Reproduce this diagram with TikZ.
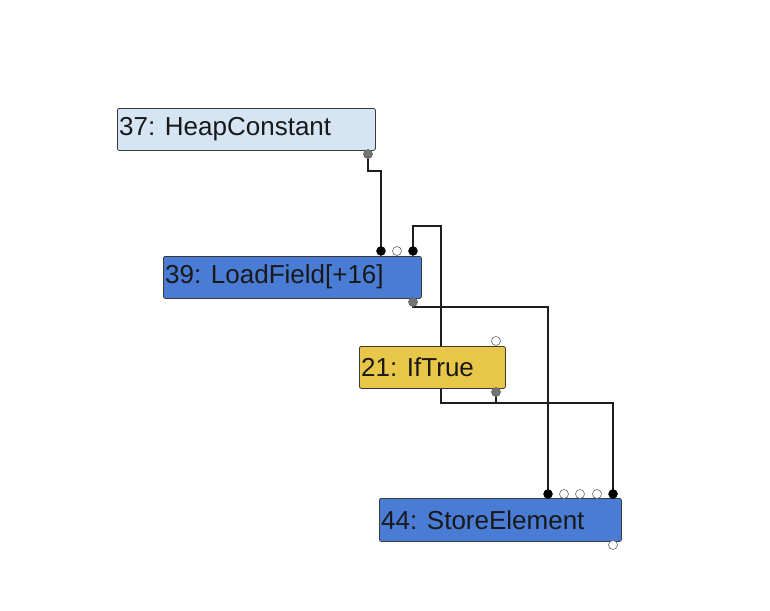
\documentclass[tikz,border=0pt]{standalone}
\usepackage{fontspec}
\setmainfont{Liberation Sans}
\usetikzlibrary{backgrounds}
\definecolor{lightnode}{HTML}{D5E5F4}
\definecolor{bluenode}{HTML}{4A7CD5}
\definecolor{yellownode}{HTML}{E8C748}
\definecolor{edgecol}{HTML}{1E1E1E}
\definecolor{bordercol}{HTML}{3A3A3A}
\tikzset{
  opbox/.style={draw=bordercol, line width=0.8pt, rounded corners=2pt, inner sep=0pt, anchor=north west},
  optext/.style={anchor=west, inner sep=0pt, font=\fontsize{26}{30}\selectfont, text=black!90},
  pin in/.style={circle, fill=black, draw=black, inner sep=0pt, minimum size=9pt},
  pin free/.style={circle, fill=white, draw=black!60, line width=0.6pt, inner sep=0pt, minimum size=9pt},
  pin out/.style={circle, fill=black!55, draw=black!60, line width=0.6pt, inner sep=0pt, minimum size=9pt},
  wire/.style={draw=edgecol, line width=1.1pt}
}
\begin{document}
\begin{tikzpicture}[x=1pt,y=-1pt]
\useasboundingbox (0,0) rectangle (770,610);
% boxes
\node[opbox, fill=lightnode, minimum width=258pt, minimum height=42pt] (n37) at (117,108) {};
\node[optext] (t37) at (119,129) {37: HeapConstant};
\node[opbox, fill=bluenode, minimum width=258pt, minimum height=42pt] (n39) at (163,256) {};
\node[optext] (t39) at (165,277) {39: LoadField[+16]};
\node[opbox, fill=yellownode, minimum width=146pt, minimum height=42pt] (n21) at (359,346) {};
\node[optext] (t21) at (361,367) {21: IfTrue};
\node[opbox, fill=bluenode, minimum width=242pt, minimum height=43pt] (n44) at (379,498) {};
\node[optext] (t44) at (381,520) {44: StoreElement};
% ports
\node[pin out] (o37) at (368,154) {};
\node[pin in] (i39a) at (381,251) {};
\node[pin free] (i39b) at (397,251) {};
\node[pin in] (i39c) at (413,251) {};
\node[pin out] (o39) at (413,302) {};
\node[pin free] (i21) at (496,341) {};
\node[pin out] (o21) at (496,392) {};
\node[pin in] (i44a) at (548,494) {};
\node[pin free] (i44b) at (564,494) {};
\node[pin free] (i44c) at (580,494) {};
\node[pin free] (i44d) at (597,494) {};
\node[pin in] (i44e) at (613,494) {};
\node[pin free] (o44) at (613,545) {};
% wires
\begin{scope}[on background layer]
\draw[wire] (o37.center) |- (381,171) -- (i39a.center);
\draw[wire] (o21.center) |- (441,403) |- (413,226) -- (i39c.center);
\draw[wire] (o21.center) |- (613,403) -- (i44e.center);
\draw[wire] (o39.center) |- (548,307) -- (i44a.center);
\end{scope}
\end{tikzpicture}
\end{document}
